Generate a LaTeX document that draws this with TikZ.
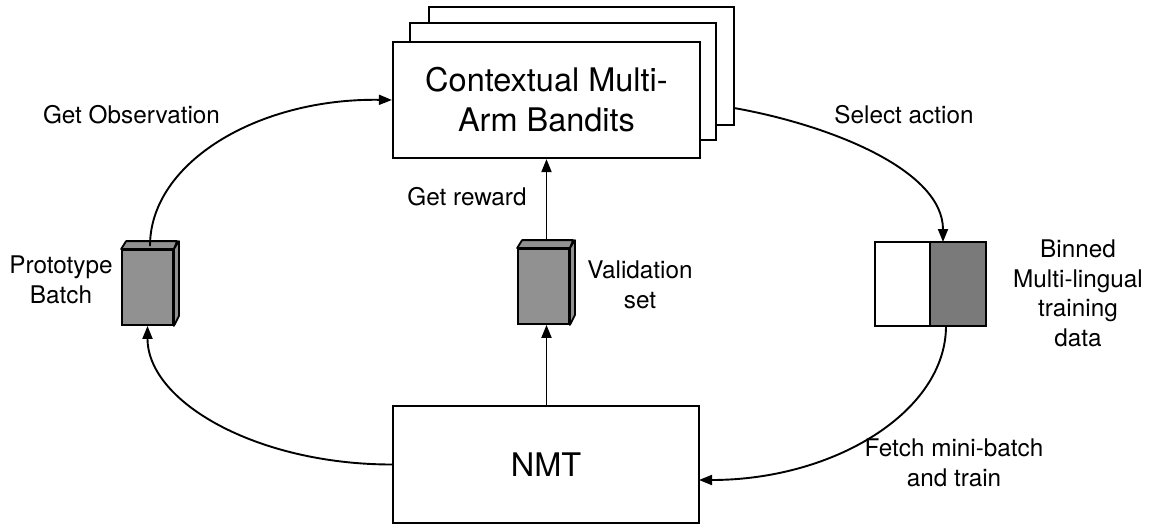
\documentclass[tikz,border=0pt]{standalone}
\usepackage{fontspec}
\setmainfont{TeX Gyre Heros}
\usetikzlibrary{arrows.meta}
\begin{document}
\begin{tikzpicture}[x=1pt,y=-1pt,
  box/.style={draw,line width=2.2pt,fill=white,inner sep=0pt,align=center,font=\fontsize{32.5}{40}\selectfont},
  cube/.style={draw,line width=1.8pt,fill=black!43,inner sep=0pt,minimum width=51pt,minimum height=75pt},
  face/.style={draw,line width=1.8pt,fill=black!43,line join=round},
  lbl/.style={inner sep=0pt,align=center,anchor=north,font=\fontsize{24.3}{29.5}\selectfont},
  conn/.style={line width=1.9pt,-{Triangle[length=13pt,width=10pt]}}]
\useasboundingbox (0,0) rectangle (1157,525);
% stacked bandit boxes
\node[box,minimum width=305pt,minimum height=118pt] (back) at (581.5,66) {};
\node[box,minimum width=306pt,minimum height=117pt] (mid) at (563,81.5) {};
\node[box,minimum width=307pt,minimum height=116pt] (bandit) at (546.5,100) {Contextual Multi-\\Arm Bandits};
% NMT
\node[box,minimum width=306pt,minimum height=117pt] (nmt) at (546,464.5) {NMT};
% prototype batch cuboid
\node[cube] (proto) at (147.5,287.5) {};
\draw[face] (proto.north west) -- ++(5,-8) -- ++(51,0) -- (proto.north east) -- cycle;
\draw[face] (proto.north east) -- ++(5,-8) -- ++(0,75) -- (proto.south east) -- cycle;
\coordinate (protoTop) at (150,246);
% validation cuboid
\node[cube] (valid) at (543.5,286.5) {};
\draw[face] (valid.north west) -- ++(5,-8) -- ++(51,0) -- (valid.north east) -- cycle;
\draw[face] (valid.north east) -- ++(5,-8) -- ++(0,75) -- (valid.south east) -- cycle;
\coordinate (validTop) at (546.5,241);
% binned data
\node[draw,line width=2pt,fill=white,inner sep=0pt,minimum width=55pt,minimum height=84pt] (binL) at (902.5,284) {};
\node[draw,line width=2pt,fill=black!52,inner sep=0pt,minimum width=56pt,minimum height=84pt] (binR) at (958,284) {};
\coordinate (binIn) at (943,242);
\coordinate (binOut) at (946,326);
\coordinate (backOut) at (734,108);
\coordinate (nmtIn) at (699,480);
% connectors
\draw[conn] (protoTop) .. controls (150,162.5) and (258,98) .. (bandit.west);
\draw[conn] (nmt.west) .. controls (257,464.5) and (147.5,402) .. (proto.south);
\draw[conn] (nmt.north -| validTop) -- (valid.south -| validTop);
\draw[conn] (validTop) -- (bandit.south -| validTop);
\draw[conn] (backOut) .. controls (830,125) and (943,170) .. (binIn);
\draw[conn] (binOut) .. controls (946,411) and (835,480) .. (nmtIn);
% labels
\node[lbl] (lobs) at (131.5,105.6) {Get Observation};
\node[lbl] (lsel) at (904,105.6) {Select action};
\node[lbl] (lrew) at (467,187.6) {Get reward};
\node[lbl] (lproto) at (61,256) {Prototype\\Batch};
\node[lbl] (lvalid) at (640,260.6) {Validation\\set};
\node[lbl] (lbin) at (1078,239.6) {Binned\\Multi-lingual\\training\\data};
\node[lbl] (lfetch) at (954,438.6) {Fetch mini-batch\\and train};
\end{tikzpicture}
\end{document}
